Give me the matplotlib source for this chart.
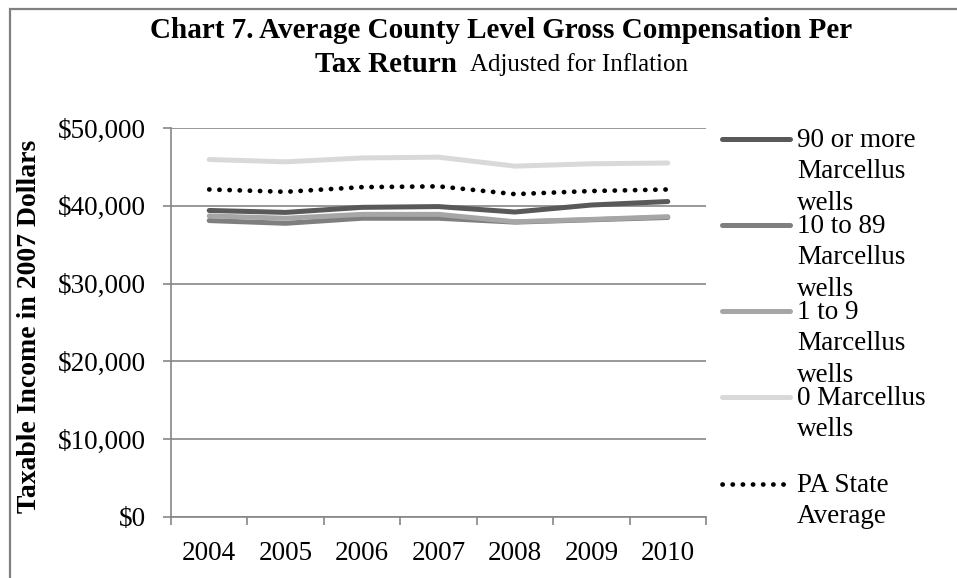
import matplotlib.pyplot as plt
from matplotlib.lines import Line2D
from matplotlib.patches import Rectangle
from matplotlib.ticker import FuncFormatter, FixedLocator

plt.rcParams["font.family"] = ["Liberation Serif", "DejaVu Serif"]

years = ["2004", "2005", "2006", "2007", "2008", "2009", "2010"]

wells_90_plus = [39400, 39150, 39800, 39900, 39200, 40100, 40550]
wells_10_89 = [38100, 37750, 38400, 38400, 37900, 38200, 38500]
wells_1_9 = [38700, 38400, 38900, 38900, 37950, 38250, 38600]
wells_0 = [45950, 45650, 46150, 46250, 45100, 45400, 45500]
pa_state = [42100, 41800, 42400, 42500, 41500, 41900, 42100]

series = [
    ("90 or more\nMarcellus\nwells", wells_90_plus, "#595959", "-"),
    ("10 to 89\nMarcellus\nwells", wells_10_89, "#7f7f7f", "-"),
    ("1 to 9\nMarcellus\nwells", wells_1_9, "#a6a6a6", "-"),
    ("0 Marcellus\nwells", wells_0, "#d9d9d9", "-"),
    ("PA State\nAverage", pa_state, "black", ":"),
]

W, H = 957, 578
fig = plt.figure(figsize=(W / 100, H / 100), dpi=100)

# outer chart border (runs off the right and bottom edges)
fig.patches.append(Rectangle((10 / W, -0.1), 1.2, 1 - 9 / H + 0.1,
                             transform=fig.transFigure, fill=False,
                             edgecolor="#808080", linewidth=1.6))

ax = fig.add_axes([171 / W, 1 - 517 / H, (706 - 171) / W, (517 - 128) / H])
x = list(range(len(years)))

for label, vals, color, ls in series:
    if ls == ":":
        ax.plot(x, vals, color=color, linewidth=3.4, linestyle=(0, (0.05, 2.1)),
                dash_capstyle="round", zorder=3)
    else:
        ax.plot(x, vals, color=color, linewidth=3.6, solid_capstyle="round",
                solid_joinstyle="round", zorder=3)

ax.set_xlim(-0.5, len(years) - 0.5)
ax.set_ylim(0, 50000)
ax.set_yticks(range(0, 50001, 10000))
ax.yaxis.set_major_formatter(FuncFormatter(lambda v, p: f"${v:,.0f}"))
ax.grid(axis="y", color="#868686", linewidth=1.2)
ax.set_axisbelow(True)

ax.set_xticks(x)
ax.set_xticklabels(years)
ax.xaxis.set_minor_locator(FixedLocator([i - 0.5 for i in range(len(years) + 1)]))
ax.tick_params(axis="x", which="major", length=0, pad=17, labelsize=19.5)
ax.tick_params(axis="x", which="minor", length=6, width=1.2, color="#868686")
ax.tick_params(axis="y", length=6, width=1.2, color="#868686", pad=12, labelsize=19.5)

for side in ("top", "right"):
    ax.spines[side].set_visible(False)
for side in ("left", "bottom"):
    ax.spines[side].set_color("#868686")
    ax.spines[side].set_linewidth(1.2)

fig.text(30 / W, 1 - 326 / H, "Taxable Income in 2007 Dollars", rotation=90,
         ha="center", va="center", fontsize=20, fontweight="bold")

# title
fig.text(501 / W, 1 - 31 / H, "Chart 7. Average County Level Gross Compensation Per",
         ha="center", va="center", fontsize=21, fontweight="bold")
fig.text(457 / W, 1 - 65 / H, "Tax Return", ha="right", va="center",
         fontsize=21, fontweight="bold")
fig.text(470 / W, 1 - 65 / H, "Adjusted for Inflation", ha="left", va="center",
         fontsize=18)

# legend
legend_y = [139, 225, 311, 397, 484]
for (label, vals, color, ls), ly in zip(series, legend_y):
    yf = 1 - ly / H
    if ls == ":":
        fig.add_artist(Line2D([722 / W, 790 / W], [yf, yf], color=color,
                              linewidth=3.4, linestyle=(0, (0.05, 2.1)),
                              dash_capstyle="round"))
    else:
        fig.add_artist(Line2D([722 / W, 790 / W], [yf, yf], color=color,
                              linewidth=3.6, solid_capstyle="round"))
    fig.text(797 / W, 1 - (ly - 11) / H, label, ha="left", va="top",
             fontsize=19.5, linespacing=1.34)

fig.savefig("out.png", dpi=100)
